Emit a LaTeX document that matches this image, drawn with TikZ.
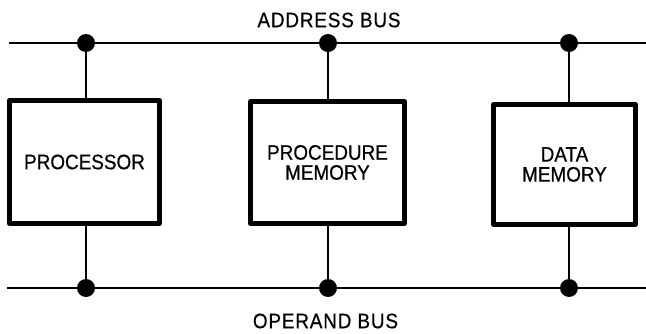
\documentclass[tikz,border=0pt]{standalone}
\usepackage{fontspec}
\setmainfont[FakeStretch=0.9,FakeBold=0.6]{Liberation Sans}
\usepackage{tikz}
\usetikzlibrary{calc}

\begin{document}
\begin{tikzpicture}[x=1pt,y=-1pt,line join=round,
  unit/.style={draw,line width=5pt,align=center,inner sep=0pt,
    font=\fontsize{21}{20}\selectfont},
  bus/.style={line width=2.6pt},
  tap/.style={line width=2pt},
  buslabel/.style={inner sep=0pt,font=\fontsize{21}{20}\selectfont\addfontfeature{LetterSpace=4}}]
  \useasboundingbox (0,0) rectangle (646,334);
  % bus ends and taps
  \coordinate (AL) at (9,43);
  \coordinate (AR) at (646,43);
  \coordinate (OL) at (7,288);
  \coordinate (OR) at (646,288);
  \coordinate (A1) at (86,43);
  \coordinate (A2) at (328,43);
  \coordinate (A3) at (569,43);
  \coordinate (O1) at (86,288);
  \coordinate (O2) at (328,288);
  \coordinate (O3) at (569,288);
  % units
  \node[unit,minimum width=150pt,minimum height=123pt] (proc) at (84.5,162) {PROCESSOR};
  \node[unit,minimum width=154pt,minimum height=122pt] (pmem) at (327.5,162.5) {PROCEDURE\\MEMORY};
  \node[unit,minimum width=142pt,minimum height=120pt] (dmem) at (564.5,164.5) {DATA\\MEMORY};
  % buses
  \draw[bus] (AL) -- (AR);
  \draw[bus] (OL) -- (OR);
  \draw[tap] (A1) -- (A1 |- proc.north);
  \draw[tap] (A2) -- (A2 |- pmem.north);
  \draw[tap] (A3) -- (A3 |- dmem.north);
  \draw[tap] (O1) -- (O1 |- proc.south);
  \draw[tap] (O2) -- (O2 |- pmem.south);
  \draw[tap] (O3) -- (O3 |- dmem.south);
  \fill (A1) circle (9);
  \fill (A2) circle (9);
  \fill (A3) circle (9);
  \fill (O1) circle (9);
  \fill (O2) circle (9);
  \fill (O3) circle (9);
  \node[buslabel] (abus) at (329,20) {ADDRESS BUS};
  \node[buslabel] (obus) at (325.5,321) {OPERAND BUS};
\end{tikzpicture}
\end{document}
